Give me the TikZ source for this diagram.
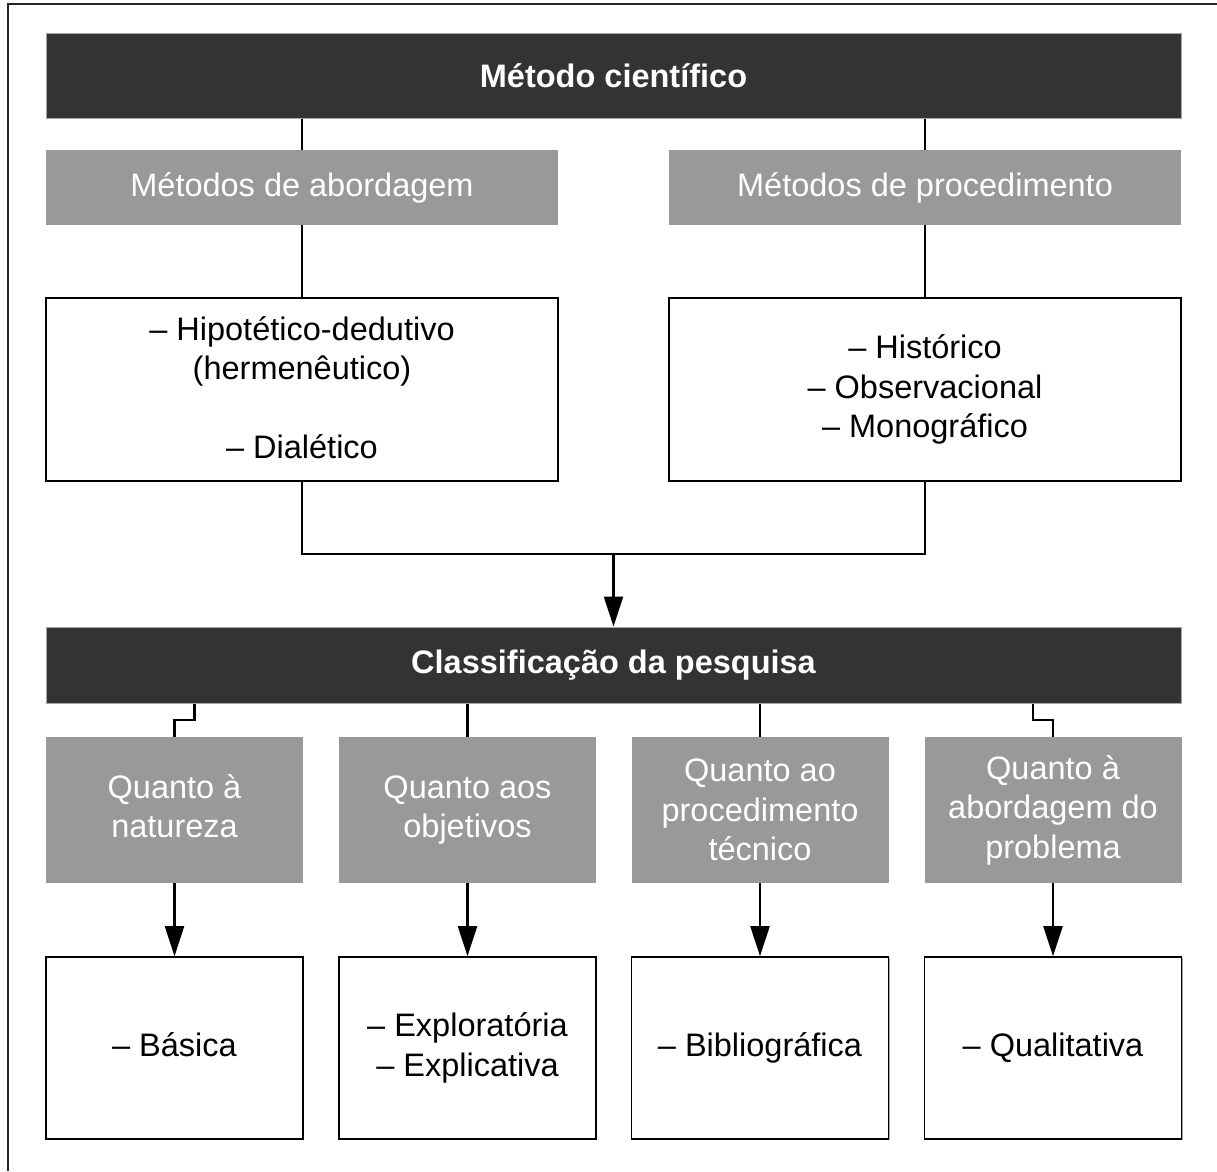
\documentclass[tikz,border=0pt]{standalone}
\usepackage{fontspec}
\setmainfont{Liberation Sans}
\usetikzlibrary{arrows.meta,calc,shadows}
\definecolor{darkfill}{HTML}{333333}
\definecolor{grayfill}{HTML}{999999}
\begin{document}
\begin{tikzpicture}[x=1pt,y=-1pt,
  every node/.style={font=\fontsize{32.5}{39.5}\selectfont, align=center, inner sep=0pt},
  darkbox/.style={fill=darkfill, draw=gray!70, line width=1pt, text=white, font=\fontsize{32.5}{39.5}\selectfont\bfseries},
  graybox/.style={fill=grayfill, text=white, minimum width=257pt, minimum height=146pt},
  whitebox/.style={fill=white, draw=black, line width=1.6pt, text=black,
    drop shadow={shadow xshift=1.2pt, shadow yshift=-1.2pt, fill=gray!70, opacity=1}},
  conn/.style={draw=black, line width=2.3pt},
  arrowconn/.style={conn, -{Triangle[length=30pt,width=19pt]}}
]
\useasboundingbox (0,0) rectangle (1217,1171);
% outer frame
\draw[line width=1.8pt, draw=black!85] (8,1171) -- (8,4) -- (1217,4);

% top
\node[darkbox, minimum width=1135pt, minimum height=85pt] (mc) at (613.5,75.5) {Método científico};
\node[fill=grayfill, text=white, minimum width=512pt, minimum height=75pt] (ma) at (302,187.5) {Métodos de abordagem};
\node[fill=grayfill, text=white, minimum width=512pt, minimum height=75pt] (mp) at (925,187.5) {Métodos de procedimento};
\node[whitebox, minimum width=512pt, minimum height=183pt, text depth=4pt] (la) at (302,389.5) {– Hipotético-dedutivo\\(hermenêutico)\\\strut\\– Dialético\rule[-8pt]{0pt}{0pt}};
\node[whitebox, minimum width=512pt, minimum height=183pt] (ra) at (925,389.5) {– Histórico\\– Observacional\\– Monográfico};

\draw[conn] (mc.south -| ma.north) -- (ma.north);
\draw[conn] (mc.south -| mp.north) -- (mp.north);
\draw[conn] (ma.south) -- (la.north);
\draw[conn] (mp.south) -- (ra.north);

% classification
\node[darkbox, minimum width=1135pt, minimum height=76pt] (cp) at (613.5,665) {Classificação da pesquisa};
\coordinate (j) at (613.5,554);
\draw[conn] (la.south) |- (j) -| (ra.south);
\draw[arrowconn] (j) -- (cp.north);

\node[graybox] (q1) at (174.5,810) {Quanto à\\natureza\rule[-8pt]{0pt}{0pt}};
\node[graybox] (q2) at (467.5,810) {Quanto aos\\objetivos};
\node[graybox] (q3) at (760,810) {Quanto ao\\procedimento\\técnico};
\node[graybox] (q4) at (1053,810) {Quanto à\\abordagem do\\problema};

\draw[conn] (q1.north) -- ++(0,-17) -| ($(q1.north |- cp.south)+(20,0)$);
\draw[conn] (q2.north) -- (q2.north |- cp.south);
\draw[conn] (q3.north) -- (q3.north |- cp.south);
\draw[conn] (q4.north) -- ++(0,-17) -| ($(q4.north |- cp.south)+(-20,0)$);

\node[whitebox, minimum width=257pt, minimum height=182pt] (r1) at (174.5,1048) {– Básica\rule[-6pt]{0pt}{0pt}};
\node[whitebox, minimum width=257pt, minimum height=182pt] (r2) at (467.5,1048) {– Exploratória\\– Explicativa};
\node[whitebox, minimum width=257pt, minimum height=182pt] (r3) at (760,1048) {– Bibliográfica};
\node[whitebox, minimum width=257pt, minimum height=182pt] (r4) at (1053,1048) {– Qualitativa};

\foreach \a/\b in {q1/r1,q2/r2,q3/r3,q4/r4}
  \draw[arrowconn] (\a.south) -- (\b.north);
\end{tikzpicture}
\end{document}
